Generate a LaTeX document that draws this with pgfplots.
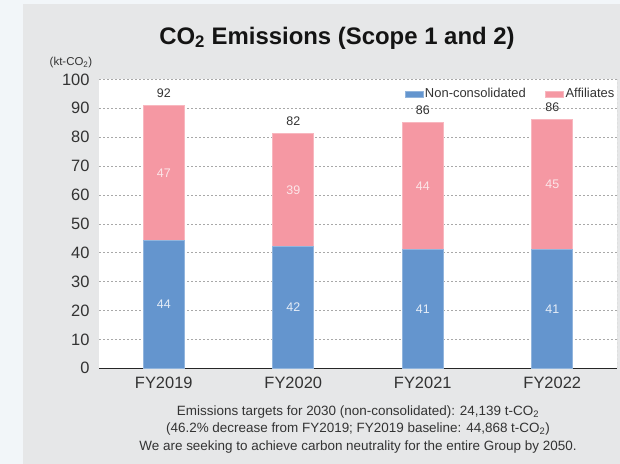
\documentclass[border=0pt]{standalone}
\usepackage{fontspec}
\setmainfont{Liberation Sans}
\usepackage{pgfplots}
\pgfplotsset{compat=1.18}
\definecolor{outerbg}{HTML}{F2F6F9}
\definecolor{panel}{HTML}{E6E7E8}
\definecolor{ncblue}{HTML}{6495CE}
\definecolor{affpink}{HTML}{F598A3}
\definecolor{txt}{HTML}{333333}
\definecolor{gridc}{HTML}{A8A8A8}
\definecolor{inlabb}{HTML}{E6EDF7}
\definecolor{inlabp}{HTML}{FCE6E9}
\tikzset{totl/.style={font=\fontsize{12.5}{14}\selectfont, text=txt, anchor=south, yshift=4bp},
  foot/.style={font=\fontsize{13.5}{15}\selectfont, text=txt}}
\pgfplotsset{geom/.style={at={(99bp,95.7bp)}, anchor=south west,
  scale only axis, width=518bp, height=288.9bp,
  xmin=-0.5, xmax=3.5, ymin=0, ymax=100}}
\begin{document}
\begin{tikzpicture}[x=1bp,y=1bp]
\useasboundingbox (0,0) rectangle (620,464);
\fill[outerbg] (0,0) rectangle (620,464);
\fill[panel] (23,0) rectangle (620,460);
\node[font=\fontsize{24}{28}\selectfont\bfseries, text=black!92] at (337,426) {CO\textsubscript{2} Emissions (Scope 1 and 2)};
\node[font=\fontsize{11.5}{13}\selectfont, text=txt] at (71,401) {(kt-CO\textsubscript{2})};
\begin{axis}[
  geom,
  ybar stacked, bar width=0.317,
  xtick={0,1,2,3}, xticklabels={FY2019,FY2020,FY2021,FY2022},
  ytick={0,10,...,100},
  /pgf/number format/assume math mode=true,
  axis background/.style={fill=white},
  axis x line*=bottom, axis y line*=left,
  x axis line style={-, draw=black!85, line width=1bp},
  y axis line style={draw=none},
  major tick length=0pt,
  ymajorgrids,
  major grid style={draw=gridc, dash pattern=on 2bp off 2bp, line width=0.6bp},
  tick label style={font=\fontsize{16.5}{18}\selectfont, text=txt},
  yticklabel style={xshift=-6bp},
  xticklabel style={yshift=-5bp},
  legend style={at={(rel axis cs:1,1)}, anchor=north east, draw=none, fill=none,
    font=\fontsize{13}{16}\selectfont, text=txt, inner sep=1bp, xshift=0bp, yshift=-6bp,
    nodes={inner xsep=1.5bp},
    /tikz/every even column/.append style={column sep=18bp}},
  legend columns=2,
  legend cell align=left,
  legend image code/.code={\fill[#1] (0bp,-3bp) rectangle (18bp,3bp);},
]
\addplot[fill=ncblue, draw=ncblue!70!white, line width=0.8bp]
  coordinates {(0,44.2) (1,42.1) (2,41.2) (3,41.0)};
\addplot[fill=affpink, draw=affpink!70!white, line width=0.8bp]
  coordinates {(0,46.9) (1,39.3) (2,43.9) (3,45.2)};
\legend{Non-consolidated, Affiliates}
\draw[gridc, dash pattern=on 2bp off 2bp, line width=0.6bp] (rel axis cs:1,0) -- (rel axis cs:1,1);
\node[totl] at (axis cs:0,91.1) {92};
\node[totl] at (axis cs:1,81.4) {82};
\node[totl] at (axis cs:2,85.1) {86};
\node[totl] at (axis cs:3,86.2) {86};
\end{axis}
\begin{axis}[geom, hide axis, point meta=explicit symbolic,
  nodes near coords, every node near coord/.style={anchor=center, font=\fontsize{12.5}{14}\selectfont}]
\addplot[draw=none, mark=none, nodes near coords style={text=inlabb}]
  coordinates {(0,22.1)[44] (1,21.05)[42] (2,20.6)[41] (3,20.5)[41]};
\addplot[draw=none, mark=none, nodes near coords style={text=inlabp}]
  coordinates {(0,67.65)[47] (1,61.75)[39] (2,63.15)[44] (3,63.6)[45]};
\end{axis}
\node[foot] at (358,52) {Emissions targets for 2030 (non-consolidated): 24,139 t-CO\textsubscript{2}};
\node[foot] at (358,35) {(46.2\% decrease from FY2019; FY2019 baseline: 44,868 t-CO\textsubscript{2})};
\node[foot] at (358,17) {We are seeking to achieve carbon neutrality for the entire Group by 2050.};
\end{tikzpicture}
\end{document}
